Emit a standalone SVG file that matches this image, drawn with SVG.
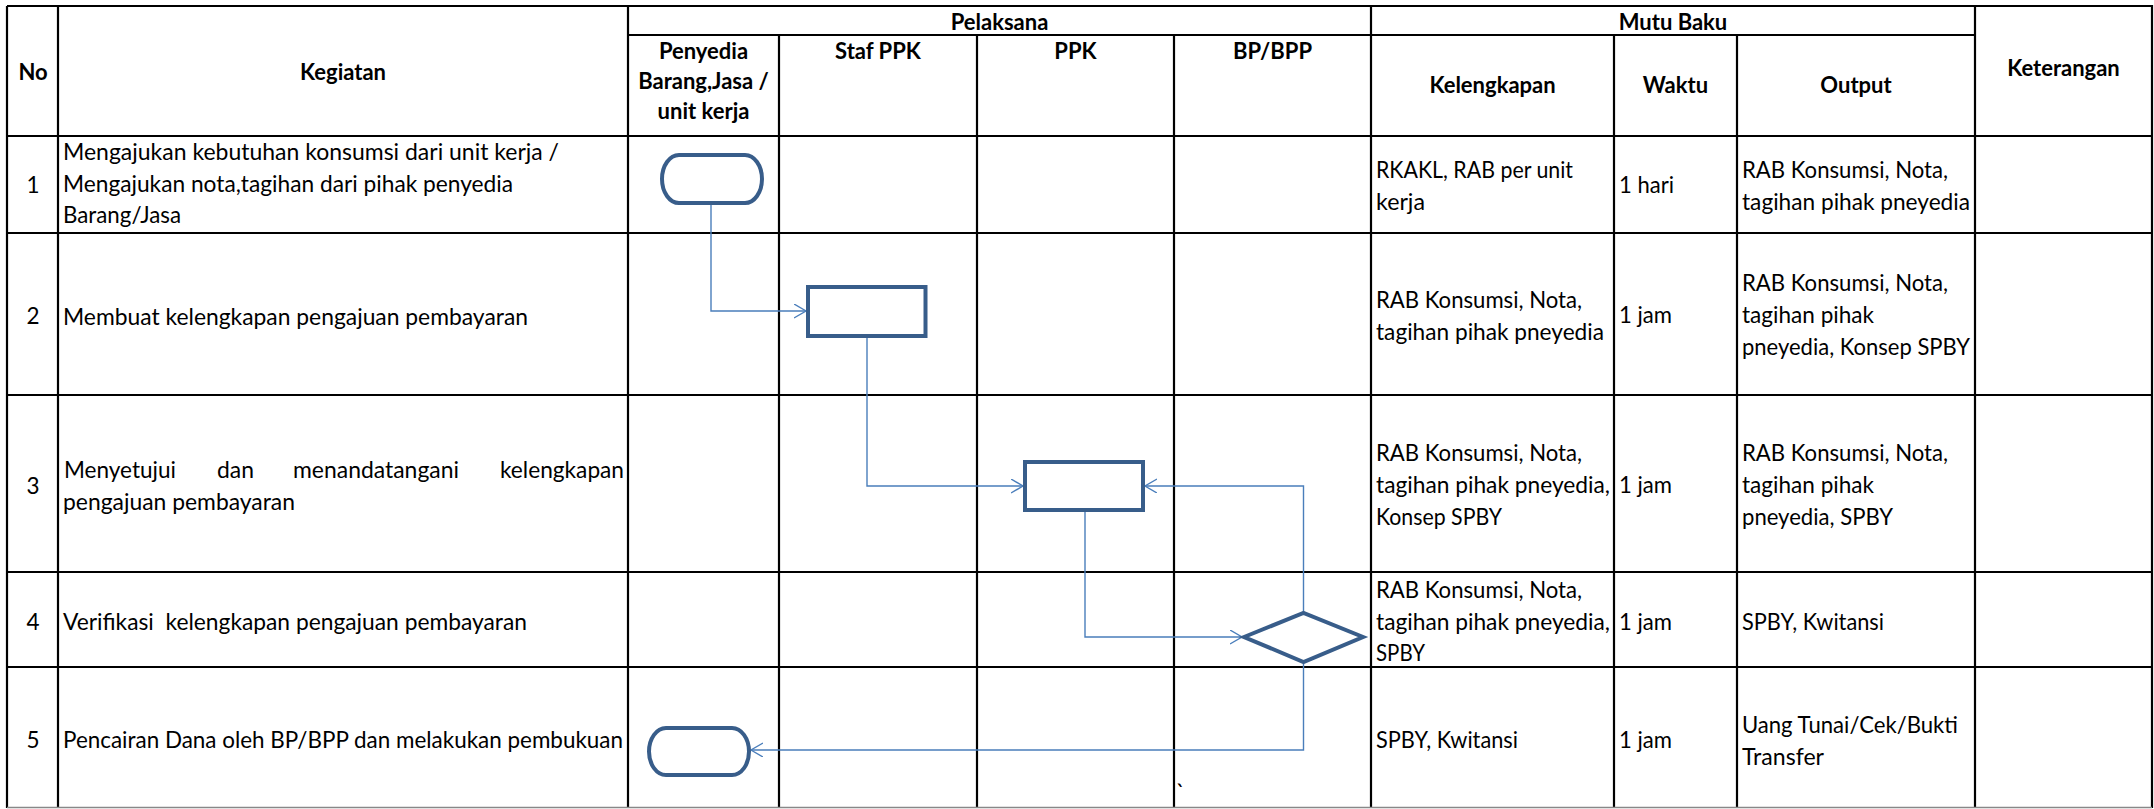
<svg xmlns="http://www.w3.org/2000/svg" width="2154" height="809" viewBox="0 0 2154 809">
<style>
.t{font-family:Lato,"Liberation Sans",sans-serif;font-size:22.5px;fill:#000}
.h{font-family:Lato,"Liberation Sans",sans-serif;font-size:22px;font-weight:bold;fill:#000;text-anchor:middle}
.c{text-anchor:middle}
.g{stroke:#000;stroke-width:2.2;fill:none}
.shape{fill:#fff;stroke:#385D8A;stroke-width:4}
.conn{fill:none;stroke:#4A7EBB;stroke-width:1.4}
</style>
<defs>
<marker id="arr" markerUnits="userSpaceOnUse" markerWidth="16" markerHeight="16" refX="12" refY="7" orient="auto">
<path d="M0,0 L12,7 L0,14" fill="none" stroke="#4A7EBB" stroke-width="1.4"/>
</marker>
</defs>
<rect width="2154" height="809" fill="#fff"/>
<g id="grid">
<path class="g" d="M7,6 H2152 V808 M7,6 V808 M628,35 H1975 M7,136 H2152 M7,233 H2152 M7,395 H2152 M7,572 H2152 M7,667 H2152 M58,6 V808 M628,6 V808 M779,35 V808 M977,35 V808 M1174,35 V808 M1371,6 V808 M1614,35 V808 M1737,35 V808 M1975,6 V808"/>
<path d="M7,807.5 H2152" stroke="#888" stroke-width="1.5"/>
</g>
<g id="header">
<text class="h" x="33" y="80">No</text>
<text class="h" x="343" y="80">Kegiatan</text>
<text class="h" x="999.5" y="29.5">Pelaksana</text>
<text class="h" x="1673" y="29.5">Mutu Baku</text>
<text class="h" x="2063.5" y="76">Keterangan</text>
<text class="h" x="703.5" y="59">Penyedia</text>
<text class="h" x="703.5" y="89">Barang,Jasa /</text>
<text class="h" x="703.5" y="119">unit kerja</text>
<text class="h" x="878" y="59">Staf PPK</text>
<text class="h" x="1075.5" y="59">PPK</text>
<text class="h" x="1272.5" y="59">BP/BPP</text>
<text class="h" x="1492.5" y="93">Kelengkapan</text>
<text class="h" x="1675.5" y="93">Waktu</text>
<text class="h" x="1856" y="93">Output</text>
</g>
<g id="row1">
<text class="t c" x="33" y="193">1</text>
<text class="t" x="63" y="160" textLength="496" lengthAdjust="spacingAndGlyphs">Mengajukan kebutuhan konsumsi dari unit kerja /</text>
<text class="t" x="63" y="191.5" textLength="450" lengthAdjust="spacingAndGlyphs">Mengajukan nota,tagihan dari pihak penyedia</text>
<text class="t" x="63" y="223" textLength="118" lengthAdjust="spacingAndGlyphs">Barang/Jasa</text>
<text class="t" x="1376" y="178" textLength="197" lengthAdjust="spacingAndGlyphs">RKAKL, RAB per unit</text>
<text class="t" x="1376" y="209.7" textLength="49" lengthAdjust="spacingAndGlyphs">kerja</text>
<text class="t" x="1619" y="193" textLength="55" lengthAdjust="spacingAndGlyphs">1 hari</text>
<text class="t" x="1742" y="178" textLength="206" lengthAdjust="spacingAndGlyphs">RAB Konsumsi, Nota,</text>
<text class="t" x="1742" y="209.7" textLength="228" lengthAdjust="spacingAndGlyphs">tagihan pihak pneyedia</text>
</g>
<g id="row2">
<text class="t c" x="33" y="324">2</text>
<text class="t" x="63" y="324.5" textLength="465" lengthAdjust="spacingAndGlyphs">Membuat kelengkapan pengajuan pembayaran</text>
<text class="t" x="1376" y="308" textLength="206" lengthAdjust="spacingAndGlyphs">RAB Konsumsi, Nota,</text>
<text class="t" x="1376" y="339.7" textLength="228" lengthAdjust="spacingAndGlyphs">tagihan pihak pneyedia</text>
<text class="t" x="1619" y="323" textLength="53" lengthAdjust="spacingAndGlyphs">1 jam</text>
<text class="t" x="1742" y="291" textLength="206" lengthAdjust="spacingAndGlyphs">RAB Konsumsi, Nota,</text>
<text class="t" x="1742" y="323" textLength="132" lengthAdjust="spacingAndGlyphs">tagihan pihak</text>
<text class="t" x="1742" y="355" textLength="228" lengthAdjust="spacingAndGlyphs">pneyedia, Konsep SPBY</text>
</g>
<g id="row3">
<text class="t c" x="33" y="494">3</text>
<text class="t" x="64" y="478" textLength="112" lengthAdjust="spacingAndGlyphs">Menyetujui</text>
<text class="t" x="217" y="478" textLength="37" lengthAdjust="spacingAndGlyphs">dan</text>
<text class="t" x="293" y="478" textLength="166" lengthAdjust="spacingAndGlyphs">menandatangani</text>
<text class="t" x="500" y="478" textLength="124" lengthAdjust="spacingAndGlyphs">kelengkapan</text>
<text class="t" x="63" y="509.5" textLength="232" lengthAdjust="spacingAndGlyphs">pengajuan pembayaran</text>
<text class="t" x="1376" y="461" textLength="206" lengthAdjust="spacingAndGlyphs">RAB Konsumsi, Nota,</text>
<text class="t" x="1376" y="493" textLength="234" lengthAdjust="spacingAndGlyphs">tagihan pihak pneyedia,</text>
<text class="t" x="1376" y="525" textLength="126" lengthAdjust="spacingAndGlyphs">Konsep SPBY</text>
<text class="t" x="1619" y="493" textLength="53" lengthAdjust="spacingAndGlyphs">1 jam</text>
<text class="t" x="1742" y="461" textLength="206" lengthAdjust="spacingAndGlyphs">RAB Konsumsi, Nota,</text>
<text class="t" x="1742" y="493" textLength="132" lengthAdjust="spacingAndGlyphs">tagihan pihak</text>
<text class="t" x="1742" y="525" textLength="151" lengthAdjust="spacingAndGlyphs">pneyedia, SPBY</text>
</g>
<g id="row4">
<text class="t c" x="33" y="629.7">4</text>
<text class="t" x="63" y="629.7" xml:space="preserve" textLength="464" lengthAdjust="spacingAndGlyphs">Verifikasi  kelengkapan pengajuan pembayaran</text>
<text class="t" x="1376" y="598" textLength="206" lengthAdjust="spacingAndGlyphs">RAB Konsumsi, Nota,</text>
<text class="t" x="1376" y="629.7" textLength="234" lengthAdjust="spacingAndGlyphs">tagihan pihak pneyedia,</text>
<text class="t" x="1376" y="661" textLength="49" lengthAdjust="spacingAndGlyphs">SPBY</text>
<text class="t" x="1619" y="629.7" textLength="53" lengthAdjust="spacingAndGlyphs">1 jam</text>
<text class="t" x="1742" y="629.7" textLength="142" lengthAdjust="spacingAndGlyphs">SPBY, Kwitansi</text>
</g>
<g id="row5">
<text class="t c" x="33" y="748">5</text>
<text class="t" x="63" y="748" textLength="560" lengthAdjust="spacingAndGlyphs">Pencairan Dana oleh BP/BPP dan melakukan pembukuan</text>
<text class="t" x="1376" y="748" textLength="142" lengthAdjust="spacingAndGlyphs">SPBY, Kwitansi</text>
<text class="t" x="1619" y="748" textLength="53" lengthAdjust="spacingAndGlyphs">1 jam</text>
<text class="t" x="1742" y="733" textLength="216" lengthAdjust="spacingAndGlyphs">Uang Tunai/Cek/Bukti</text>
<text class="t" x="1742" y="764.7" textLength="82" lengthAdjust="spacingAndGlyphs">Transfer</text>
<text class="t" x="1176" y="801">`</text>
</g>
<g id="connectors">
<path class="conn" d="M711,203 V311 H806" marker-end="url(#arr)"/>
<path class="conn" d="M867,336 V486 H1023" marker-end="url(#arr)"/>
<path class="conn" d="M1303.5,613 V486 H1145" marker-end="url(#arr)"/>
<path class="conn" d="M1085,510 V637 H1242" marker-end="url(#arr)"/>
<path class="conn" d="M1303.5,662 V750 H751" marker-end="url(#arr)"/>
</g>
<g id="n1"><rect class="shape" x="662" y="155" width="100" height="48" rx="17" ry="24"/></g>
<g id="n2"><rect class="shape" x="808" y="287" width="117.5" height="49"/></g>
<g id="n3"><rect class="shape" x="1025" y="462" width="118" height="48"/></g>
<g id="n4"><polygon class="shape" points="1244,637 1303.5,613 1363,637 1303.5,662"/></g>
<g id="n5"><rect class="shape" x="649" y="728" width="100" height="47" rx="17" ry="23.5"/></g>
</svg>
